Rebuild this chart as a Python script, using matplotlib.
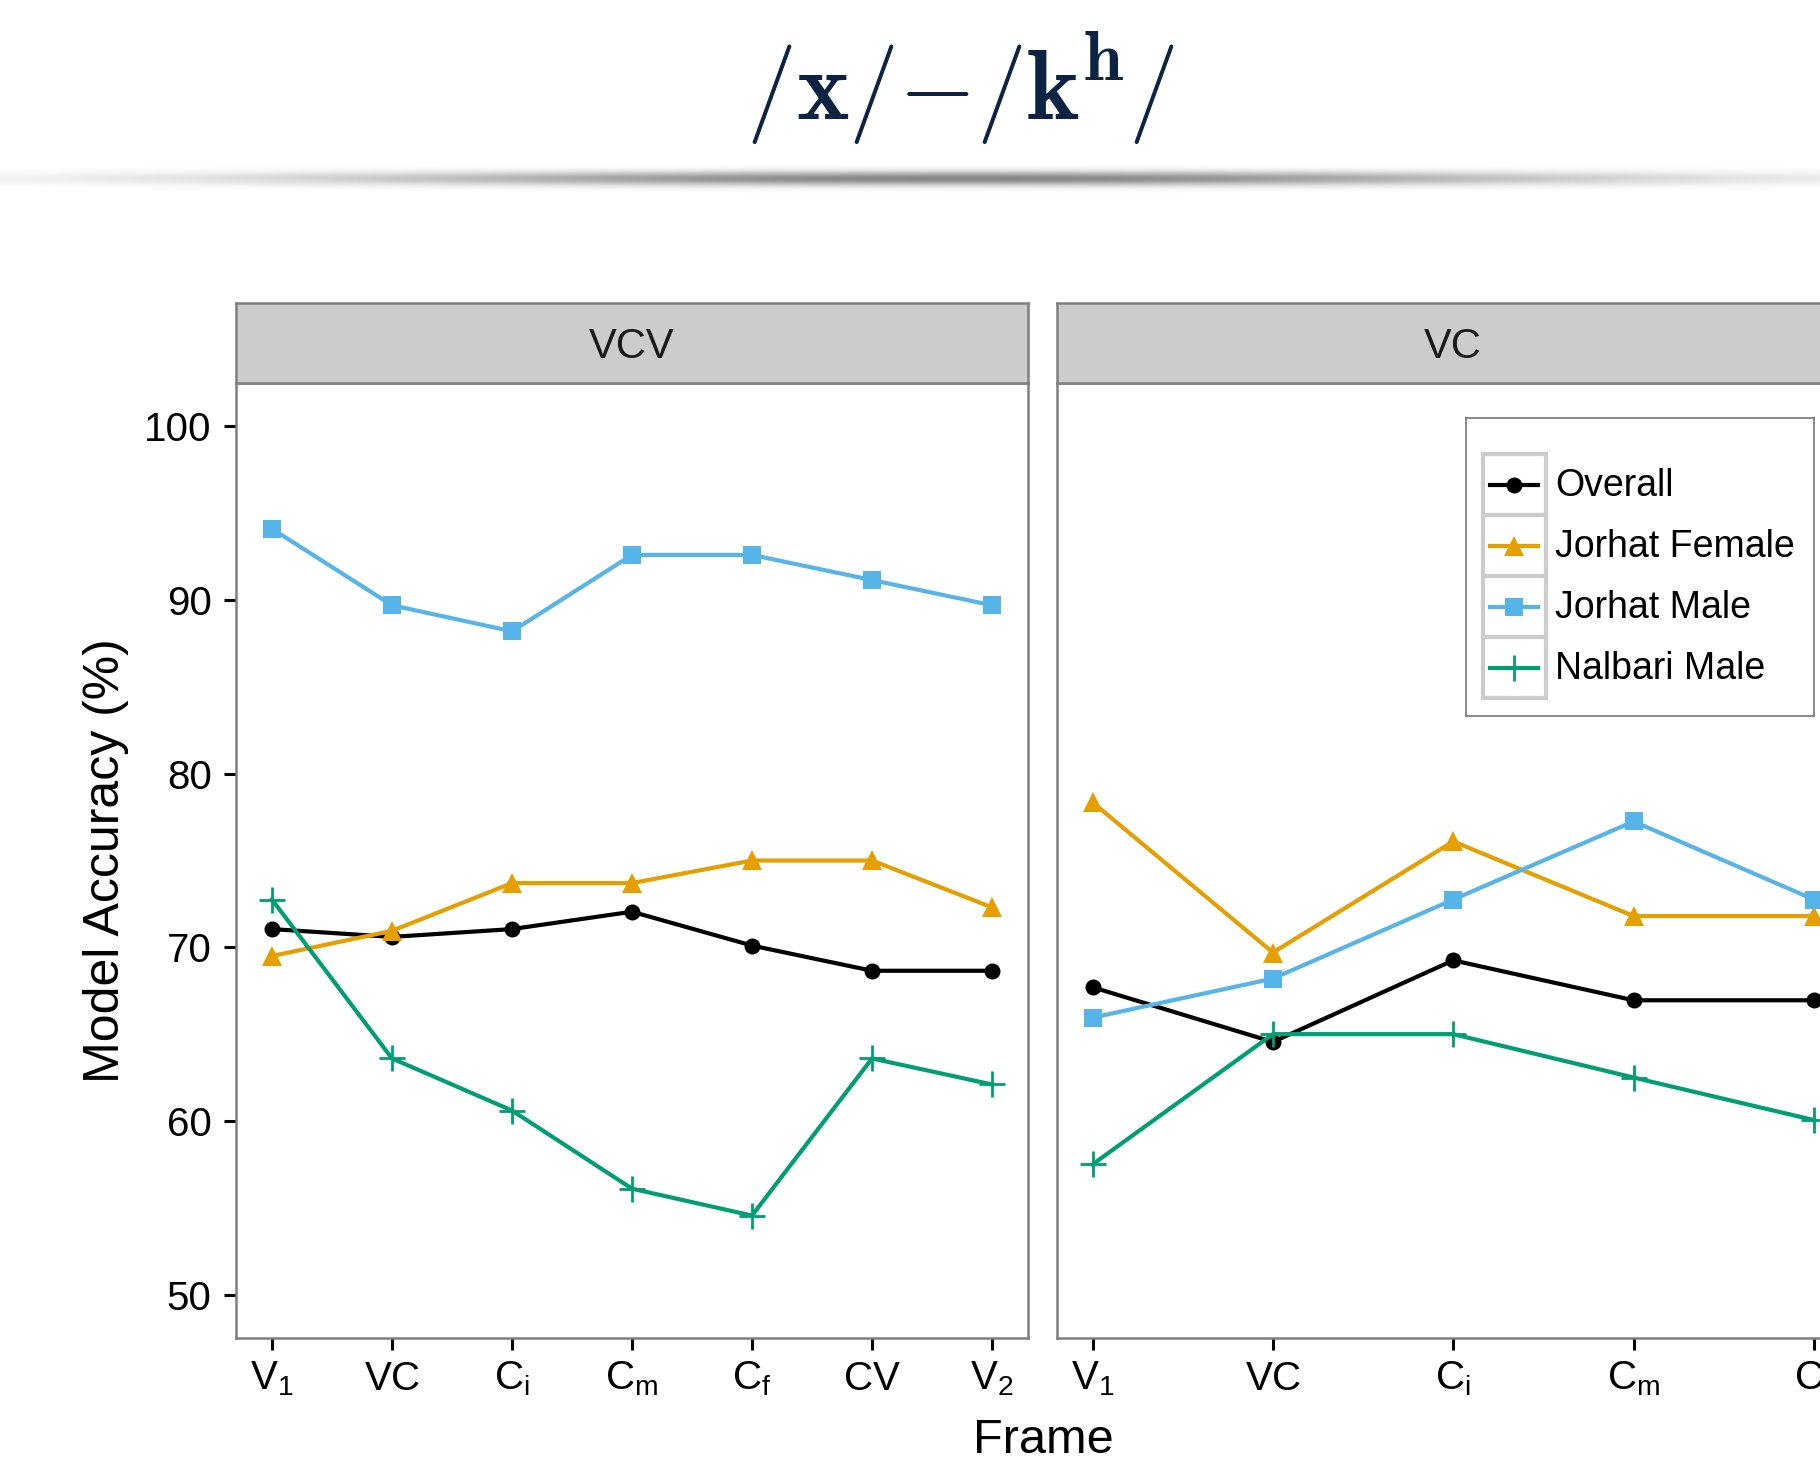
import numpy as np
import matplotlib
matplotlib.use('Agg')
from matplotlib import pyplot as plt
from matplotlib.patches import Rectangle
from matplotlib.lines import Line2D

plt.rcParams['font.family'] = ['Liberation Sans', 'DejaVu Sans']
plt.rcParams['mathtext.fontset'] = 'custom'
plt.rcParams['mathtext.rm'] = 'Liberation Sans'
plt.rcParams['mathtext.it'] = 'Liberation Sans:italic'
plt.rcParams['mathtext.bf'] = 'Liberation Sans:bold'

# frame labels for the two contexts
frames_vcv = [r'$\mathrm{V_1}$', r'$\mathrm{VC}$', r'$\mathrm{C_i}$', r'$\mathrm{C_m}$',
              r'$\mathrm{C_f}$', r'$\mathrm{CV}$', r'$\mathrm{V_2}$']
frames_vc = [r'$\mathrm{V_1}$', r'$\mathrm{VC}$', r'$\mathrm{C_i}$', r'$\mathrm{C_m}$',
             r'$\mathrm{C_f}$']

# model accuracy (%), VCV context
overall_vcv = [71.05, 70.6, 71.05, 72.05, 70.1, 68.65, 68.65]
jorhat_female_vcv = [69.5, 70.95, 73.7, 73.7, 75.0, 75.0, 72.3]
jorhat_male_vcv = [94.1, 89.7, 88.2, 92.6, 92.6, 91.15, 89.7]
nalbari_male_vcv = [72.75, 63.6, 60.6, 56.1, 54.55, 63.6, 62.1]

# model accuracy (%), VC context
overall_vc = [67.7, 64.55, 69.25, 66.95, 66.95]
jorhat_female_vc = [78.35, 69.7, 76.1, 71.8, 71.8]
jorhat_male_vc = [65.95, 68.2, 72.75, 77.25, 72.75]
nalbari_male_vc = [57.5, 65.0, 65.0, 62.5, 60.05]

speakers = ['Overall', 'Jorhat Female', 'Jorhat Male', 'Nalbari Male']

W, H = 1820, 1459
fig = plt.figure(figsize=(W / 100, H / 100), dpi=100)


def fig_box(x0, y0, x1, y1):
    # pixel box, origin top left -> figure fraction rect
    return [x0 / W, 1 - y1 / H, (x1 - x0) / W, (y1 - y0) / H]


styles = {
    'Overall': dict(color='black', marker='o', ms=11.5, mew=0),
    'Jorhat Female': dict(color='#E69F00', marker='^', ms=14.5, mew=0),
    'Jorhat Male': dict(color='#56B4E9', marker='s', ms=12.5, mew=0),
    'Nalbari Male': dict(color='#009E73', marker='+', ms=19, mew=2.0),
}
line_w = 3.0
border = '#7F7F7F'

# title
fig.text(961 / W, 1 - 119 / H, r'$/\mathbf{x}/{-}/\mathbf{k}^{\mathbf{h}}/$',
         math_fontfamily='cm', fontsize=72, color='#0C2344',
         ha='center', va='baseline')

# soft shadow rule under the title
sh = fig.add_axes(fig_box(0, 150, W, 206))
xx, yy = np.meshgrid(np.arange(W), np.arange(56))
alpha = 0.48 * np.exp(-((xx - 963) / 640.0) ** 2) * np.exp(-((yy - 28) / 7.0) ** 2)
rgba = np.zeros((56, W, 4))
rgba[..., 3] = alpha
sh.imshow(rgba, aspect='auto', extent=(0, W, 56, 0), interpolation='bilinear')
sh.set_axis_off()

panels = [
    ('VCV', frames_vcv, [overall_vcv, jorhat_female_vcv, jorhat_male_vcv, nalbari_male_vcv], 236, 1028),
    ('VC', frames_vc, [overall_vc, jorhat_female_vc, jorhat_male_vc, nalbari_male_vc], 1056.5, 1850),
]

for i, (name, frames, series, x0, x1) in enumerate(panels):
    ax = fig.add_axes(fig_box(x0, 383, x1, 1338))
    x = np.arange(len(frames))
    for spk, vals in zip(speakers, series):
        st = styles[spk]
        ax.plot(x, vals, color=st['color'], lw=line_w, marker=st['marker'],
                ms=st['ms'], mew=st['mew'], mec=st['color'], mfc=st['color'])
    n = len(frames) - 1
    ax.set_xlim(-0.05 * n, n + 0.05 * n)
    ax.set_ylim(47.5, 102.5)
    ax.set_xticks(x)
    ax.set_xticklabels(frames)
    ax.set_yticks([50, 60, 70, 80, 90, 100])
    for s in ax.spines.values():
        s.set_color(border)
        s.set_linewidth(1.8)
    ax.tick_params(axis='x', length=8.5, width=2.2, color='black', labelsize=29, pad=7)
    ax.tick_params(axis='y', length=8.5, width=2.2, color='black', labelsize=29, pad=9)
    if i > 0:
        ax.tick_params(axis='y', left=False, labelleft=False)

    strip = fig.add_axes(fig_box(x0, 303, x1, 383))
    strip.set_facecolor('#CCCCCC')
    strip.set_xticks([])
    strip.set_yticks([])
    for s in strip.spines.values():
        s.set_color(border)
        s.set_linewidth(1.8)
    strip.text(0.5, 0.45, name, transform=strip.transAxes, ha='center', va='center',
               fontsize=30, color='#1A1A1A')

# legend, drawn in its own pixel-scaled box
lg = fig.add_axes(fig_box(1466, 418, 1814, 716))
lg.set_xlim(0, 348)
lg.set_ylim(298, 0)
lg.set_xticks([])
lg.set_yticks([])
for s in lg.spines.values():
    s.set_color(border)
    s.set_linewidth(1.3)
for k, spk in enumerate(speakers):
    st = styles[spk]
    top = 36 + k * 61
    lg.add_patch(Rectangle((17, top), 63, 61, facecolor='white', edgecolor='#CCCCCC', lw=3.0))
    lg.add_line(Line2D([24, 72], [top + 30.5, top + 30.5], color=st['color'], lw=line_w))
    lg.add_line(Line2D([48], [top + 30.5], color=st['color'], marker=st['marker'],
                       ms=st['ms'], mew=st['mew'], mec=st['color'], mfc=st['color']))
    lg.text(89, top + 32, spk, fontsize=27, va='center', ha='left')

fig.text(106 / W, 1 - 860.5 / H, 'Model Accuracy (%)', rotation=90, fontsize=36,
         ha='center', va='center')
fig.text(1043 / W, 1 - 1453 / H, 'Frame', fontsize=35, ha='center', va='baseline')

fig.savefig('out.png', dpi=100)
